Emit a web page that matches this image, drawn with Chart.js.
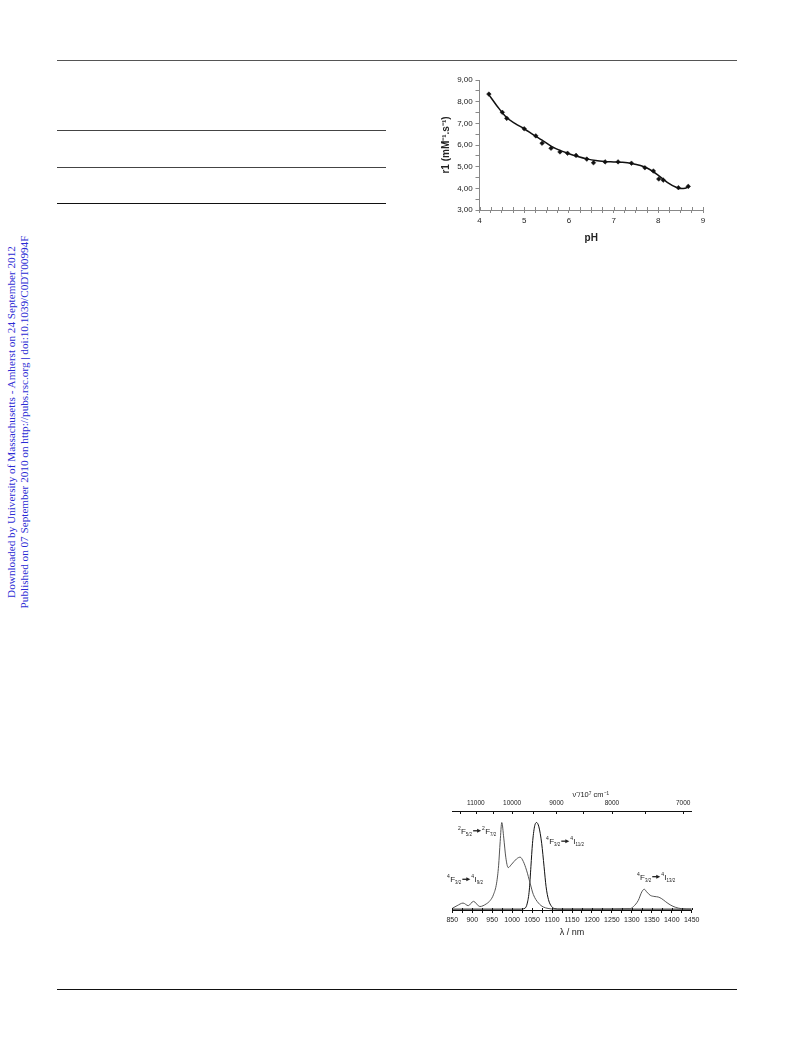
<!DOCTYPE html>
<html>
<head>
<meta charset="utf-8">
<script src="https://cdn.jsdelivr.net/npm/chart.js@4/dist/chart.umd.min.js"></script>
<style>
  html, body { margin: 0; padding: 0; background: #fff; }
  body { position: relative; width: 793px; height: 1039px; overflow: hidden; font-family: "Liberation Sans", Arial, sans-serif; }
  .rule { position: absolute; height: 0; border-top: 1px solid #111; }
  .side {
    position: absolute; left: 5px; top: 617px; width: 390px;
    transform-origin: left top; transform: rotate(-90deg);
    text-align: center; white-space: nowrap;
    font: 11.2px/13px "Liberation Serif", "Times New Roman", serif; color: #2b2bd4;
  }
  canvas { position: absolute; }
</style>
</head>
<body>
<div class="rule" style="left:57px;top:60px;width:680px;border-color:#555"></div>
<div class="rule" style="left:57px;top:130px;width:329px;border-color:#444"></div>
<div class="rule" style="left:57px;top:167px;width:329px;border-color:#444"></div>
<div class="rule" style="left:57px;top:203px;width:329px"></div>
<div class="rule" style="left:57px;top:989px;width:680px"></div>

<div class="side">Downloaded by University of Massachusetts - Amherst on 24 September 2012<br>Published on 07 September 2010 on http://pubs.rsc.org | doi:10.1039/C0DT00994F</div>

<canvas id="relaxivity" width="310" height="190" style="left:410px;top:65px"></canvas>
<canvas id="emission" width="270" height="165" style="left:440px;top:785px"></canvas>

<script>
// --- relaxivity r1 vs pH ---
const phMeasured = [4.21, 4.51, 4.61, 5.00, 5.26, 5.40, 5.60, 5.80, 5.97, 6.16, 6.40, 6.55, 6.81, 7.10, 7.40, 7.70, 7.89, 8.01, 8.11, 8.45, 8.67];
const r1Measured = [8.35, 7.51, 7.23, 6.75, 6.42, 6.08, 5.85, 5.68, 5.62, 5.52, 5.35, 5.18, 5.22, 5.22, 5.16, 4.95, 4.80, 4.43, 4.38, 4.03, 4.09];
const phFit = [4.2, 4.4, 4.6, 4.8, 5.0, 5.2, 5.4, 5.6, 5.8, 6.0, 6.2, 6.4, 6.6, 6.8, 7.0, 7.2, 7.4, 7.6, 7.8, 8.0, 8.2, 8.4, 8.5, 8.6, 8.67];
const r1Fit = [8.35, 7.78, 7.28, 6.99, 6.75, 6.48, 6.22, 5.95, 5.75, 5.60, 5.47, 5.36, 5.28, 5.24, 5.22, 5.20, 5.15, 5.05, 4.88, 4.60, 4.28, 4.05, 3.99, 4.00, 4.07];

// --- NIR emission spectra ---
const lambdaYb = [850, 862, 877, 890, 903, 919, 935, 945, 953, 961, 966, 970, 974, 979, 984, 990, 999, 1011, 1020, 1028, 1036, 1045, 1053, 1066, 1078, 1090, 1105, 1200, 1295, 1304, 1316, 1325, 1331, 1337, 1346, 1358, 1366, 1375, 1385, 1396, 1410, 1425, 1450];
const intensityYb = [0.01, 0.04, 0.07, 0.04, 0.09, 0.03, 0.06, 0.10, 0.165, 0.30, 0.50, 0.78, 1.00, 0.82, 0.60, 0.48, 0.52, 0.58, 0.60, 0.55, 0.45, 0.30, 0.17, 0.07, 0.025, 0.008, 0, 0, 0.005, 0.03, 0.10, 0.20, 0.23, 0.20, 0.16, 0.145, 0.14, 0.12, 0.085, 0.05, 0.02, 0.005, 0];
const lambdaNd = [850, 1020, 1032, 1038, 1043, 1047, 1051, 1056, 1061, 1067, 1074, 1080, 1085, 1091, 1099, 1107, 1120, 1450];
const intensityNd = [0, 0, 0.01, 0.07, 0.22, 0.49, 0.76, 0.95, 1.00, 0.95, 0.76, 0.49, 0.26, 0.11, 0.03, 0.005, 0, 0];
const wavenumberTicks = [11500, 11000, 10500, 10000, 9500, 9000, 8500, 8000, 7500, 7000];

const toXY = (xs, ys) => xs.map((x, i) => ({ x: x, y: ys[i] }));
const comma2 = v => v.toFixed(2).replace('.', ',');
const SANS = '"Liberation Sans", Arial, sans-serif';

// tick marks that point into the plot area
const innerTicks = {
    id: 'innerTicks',
    afterDraw(chart, args, opts) {
        const ctx = chart.ctx;
        ctx.save();
        ctx.strokeStyle = opts.color;
        ctx.lineWidth = 1;
        Object.keys(opts.lengths).forEach(id => {
            const s = chart.scales[id];
            const len = opts.lengths[id];
            const top = s.position === 'top';
            const y0 = top ? s.bottom : s.top;
            s.ticks.forEach(t => {
                const x = Math.round(s.getPixelForValue(t.value)) + 0.5;
                ctx.beginPath();
                ctx.moveTo(x, y0);
                ctx.lineTo(x, y0 + (top ? len : -len));
                ctx.stroke();
            });
        });
        ctx.restore();
    }
};

// transition labels like 4F3/2 -> 4I9/2
const transitionText = {
    id: 'transitionText',
    afterDraw(chart, args, opts) {
        const ctx = chart.ctx;
        const xs = chart.scales.x, ys = chart.scales.y;
        ctx.save();
        ctx.fillStyle = '#222';
        ctx.strokeStyle = '#222';
        ctx.textBaseline = 'alphabetic';
        opts.items.forEach(item => {
            let x = xs.getPixelForValue(item.nm);
            const y = ys.getPixelForValue(item.level);
            const term = parts => {
                ctx.font = '5px ' + SANS;
                ctx.fillText(parts[0], x, y - 4);
                x += ctx.measureText(parts[0]).width + 0.3;
                ctx.font = '8px ' + SANS;
                ctx.fillText(parts[1], x, y);
                x += ctx.measureText(parts[1]).width;
                ctx.font = '4.5px ' + SANS;
                ctx.fillText(parts[2], x, y + 2);
                x += ctx.measureText(parts[2]).width;
            };
            term(item.from);
            // arrow
            const ay = y - 3;
            ctx.lineWidth = 1.3;
            ctx.beginPath();
            ctx.moveTo(x + 1, ay);
            ctx.lineTo(x + 6, ay);
            ctx.stroke();
            ctx.beginPath();
            ctx.moveTo(x + 5, ay - 2);
            ctx.lineTo(x + 9, ay);
            ctx.lineTo(x + 5, ay + 2);
            ctx.closePath();
            ctx.fill();
            x += 10;
            term(item.to);
        });
        ctx.restore();
    }
};

new Chart(document.getElementById('relaxivity'), {
    type: 'line',
    data: {
        datasets: [{
            data: toXY(phFit, r1Fit),
            borderColor: '#111',
            borderWidth: 1.5,
            pointRadius: 0,
            cubicInterpolationMode: 'monotone',
            fill: false
        }, {
            data: toXY(phMeasured, r1Measured),
            showLine: false,
            pointStyle: 'rectRot',
            pointRadius: 2.3,
            pointBackgroundColor: '#111',
            pointBorderColor: '#111',
            pointBorderWidth: 0.5
        }]
    },
    options: {
        responsive: false,
        animation: false,
        layout: { padding: { left: 0, right: 17, top: 15, bottom: 0 } },
        scales: {
            x: {
                type: 'linear',
                min: 4,
                max: 9,
                afterFit: s => { s.height = 45; },
                grid: { drawOnChartArea: false, tickLength: 3, color: '#888' },
                border: { color: '#888' },
                ticks: {
                    stepSize: 0.25,
                    autoSkip: false,
                    maxRotation: 0,
                    padding: 3,
                    color: '#222',
                    font: { size: 8, family: SANS },
                    callback: v => Number.isInteger(v) ? String(v) : ''
                },
                title: {
                    display: true,
                    text: 'pH',
                    color: '#222',
                    padding: { bottom: 11 },
                    font: { size: 10, weight: 'bold', family: SANS }
                }
            },
            y: {
                min: 3,
                max: 9,
                afterFit: s => { s.width = 69.5; },
                grid: { drawOnChartArea: false, tickLength: 4, color: '#888' },
                border: { color: '#888' },
                ticks: {
                    stepSize: 0.5,
                    autoSkip: false,
                    padding: 2.8,
                    color: '#222',
                    font: { size: 8, family: SANS },
                    callback: v => Number.isInteger(v) ? comma2(v) : ''
                },
                title: {
                    display: true,
                    text: 'r1 (mM⁻¹.s⁻¹)',
                    color: '#222',
                    padding: { top: 30.5 },
                    font: { size: 10, weight: 'bold', family: SANS }
                }
            }
        },
        plugins: {
            legend: { display: false },
            tooltip: { enabled: false },
            innerTicks: { color: '#888', lengths: { x: 3 } }
        }
    },
    plugins: [innerTicks]
});

new Chart(document.getElementById('emission'), {
    type: 'line',
    data: {
        datasets: [{
            data: toXY(lambdaYb, intensityYb),
            borderColor: '#555',
            borderWidth: 1,
            pointRadius: 0,
            cubicInterpolationMode: 'monotone',
            fill: false
        }, {
            data: toXY(lambdaNd, intensityNd),
            borderColor: '#111',
            borderWidth: 1,
            pointRadius: 0,
            cubicInterpolationMode: 'monotone',
            fill: false
        }]
    },
    options: {
        responsive: false,
        animation: false,
        layout: { padding: { left: 12.3, right: 18.3, top: 0, bottom: 0 } },
        scales: {
            x: {
                type: 'linear',
                position: 'bottom',
                min: 850,
                max: 1450,
                afterFit: s => { s.height = 40; },
                grid: { drawOnChartArea: false, tickLength: 3, color: '#111' },
                border: { color: '#111' },
                ticks: {
                    stepSize: 25,
                    autoSkip: false,
                    maxRotation: 0,
                    padding: 2.8,
                    color: '#222',
                    font: { size: 7, family: SANS },
                    callback: v => v % 50 === 0 ? String(v) : ''
                },
                title: {
                    display: true,
                    text: 'λ / nm',
                    color: '#222',
                    padding: { bottom: 12 },
                    font: { size: 9, family: SANS }
                }
            },
            x2: {
                type: 'linear',
                position: 'top',
                min: 850,
                max: 1450,
                afterFit: s => { s.height = 26; },
                afterBuildTicks: s => { s.ticks = wavenumberTicks.map(w => ({ value: 1e7 / w })); },
                grid: { drawOnChartArea: false, drawTicks: false, color: '#111' },
                border: { color: '#111' },
                ticks: {
                    autoSkip: false,
                    maxRotation: 0,
                    padding: 3.5,
                    color: '#222',
                    font: { size: 6.5, family: SANS },
                    callback: v => {
                        const w = Math.round(1e7 / v);
                        return w % 1000 === 0 ? String(w) : '';
                    }
                },
                title: {
                    display: true,
                    text: '                  ν̃ /10⁷ cm⁻¹',
                    color: '#222',
                    padding: { top: 5 },
                    font: { size: 7.5, family: SANS }
                }
            },
            y: {
                display: false,
                min: -0.01,
                max: 1.133
            }
        },
        plugins: {
            legend: { display: false },
            tooltip: { enabled: false },
            innerTicks: { color: '#111', lengths: { x: 2, x2: 3 } },
            transitionText: {
                items: [
                    { nm: 837, level: 0.31, from: ['4', 'F', '3/2'], to: ['4', 'I', '9/2'] },
                    { nm: 864, level: 0.87, from: ['2', 'F', '5/2'], to: ['2', 'F', '7/2'] },
                    { nm: 1085, level: 0.75, from: ['4', 'F', '3/2'], to: ['4', 'I', '11/2'] },
                    { nm: 1313, level: 0.34, from: ['4', 'F', '3/2'], to: ['4', 'I', '13/2'] }
                ]
            }
        }
    },
    plugins: [innerTicks, transitionText]
});
</script>
</body>
</html>
